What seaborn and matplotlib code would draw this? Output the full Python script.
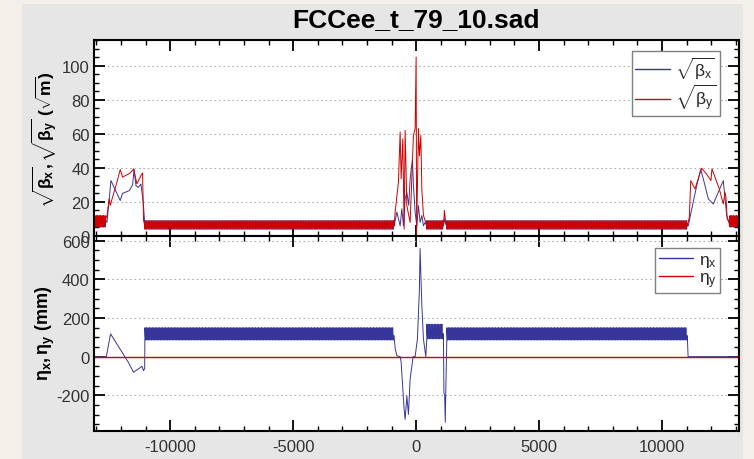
import numpy as np
import pandas as pd
import matplotlib
matplotlib.use("Agg")
import matplotlib.pyplot as plt
from matplotlib.patches import Rectangle
from matplotlib.ticker import MultipleLocator, FixedLocator
import seaborn as sns

# ---------------- data ----------------
title = "FCCee_t_79_10.sad"
x_limits = (-13100, 13130)

# one periodic FODO cell of the dense bands (cell length in m)
cell_len = 60
arc_sqrt_bx = [9.0, 6.5, 4.0, 6.5]
arc_sqrt_by = [4.0, 6.5, 9.0, 6.5]
arc_eta_x = [150, 110, 86, 110]
short_arc_eta_x = [168, 120, 92, 120]
ss_sqrt_bx = [11.5, 7.0, 5.2, 8.5]
ss_sqrt_by = [5.5, 10.5, 12.0, 7.0]

# arc boundaries (m)
ss_left_end = -12620
arc1 = (-11030, -894)
arc2 = (1250, 11030)
short_arc = (435, 1110)
ss_right_start = 12740

# matching section left, sqrt(beta)
ml_s_bx = [-12620, -12573, -12411, -12033, -11939, -11667, -11530, -11470, -11394, -11300, -11191, -11100, -11030]
ml_bx = [9, 8, 32.5, 20.8, 25.0, 26.6, 30, 39, 29.6, 28.5, 30.5, 20, 6]
ml_s_by = [-12620, -12573, -12480, -12440, -12167, -12033, -11939, -11626, -11492, -11354, -11191, -11126, -11085, -11030]
ml_by = [10, 12, 21.8, 18, 31.6, 39, 34.5, 37, 39.4, 30.6, 35.5, 37, 9, 6]

# matching section right, sqrt(beta)
mr_s_bx = [11030, 11069, 11167, 11411, 11573, 11679, 11882, 12085, 12289, 12492, 12561, 12630, 12740]
mr_bx = [6, 6, 13, 29.6, 39, 33.5, 21.8, 18.8, 25.7, 32.5, 21.8, 12, 7]
mr_s_by = [11030, 11110, 11167, 11340, 11540, 11610, 11800, 11990, 12030, 12330, 12492, 12561, 12600, 12650, 12740]
mr_by = [6, 11, 32.5, 27.6, 36.5, 39.8, 36.5, 32.5, 39.4, 27.6, 18.8, 25.7, 22.7, 10, 8]

# interaction region, sqrt(beta)
ir_s_bx = [-894, -785, -650, -581, -516, -447, -378, -300, -244, -150, -110, -41, 28, 93, 163, 232, 297, 366, 435]
ir_bx = [6, 14, 6, 16, 6, 21.8, 25.7, 18, 33.5, 45, 29.6, 14, 6, 17.8, 8, 12, 6, 8, 6]
ir_s_by = [-894, -854, -720, -650, -610, -541, -488, -447, -378, -244, -110, -41, 0, 20, 93, 134, 191, 232, 297, 366, 435]
ir_by = [6, 14, 31.6, 61, 33.5, 57, 4, 62, 17.8, 8, 59, 63, 105, 1, 63, 47, 59, 27.6, 12, 9, 6]

# bump between short arc and arc 2, sqrt(beta)
bump_s = [1110, 1150, 1200, 1250]
bump_bx = [6, 10, 7, 6]
bump_by = [6, 15, 8, 6]

# dispersion eta_x (mm) outside the arcs
eta_left_s = [-13100, -12600, -12427, -11700, -11560, -11490, -11150, -11085, -11040, -11030]
eta_left = [0, 0, 118, -30, -64, -81, -50, -73, -60, 100]
eta_ir_s = [-894, -850, -785, -650, -610, -488, -447, -378, -313, -244, -134, -122, -41,
            53, 134, 160, 232, 297, 394, 435]
eta_ir = [100, 40, 5, 0, -28, -273, -325, -203, -299, -116, -12, 0, 0,
          92, 353, 560, 266, 92, 0, 100]
eta_gap_s = [1110, 1130, 1160, 1185, 1210, 1250]
eta_gap = [100, -186, -200, -340, -150, 100]
eta_right_s = [11030, 11060, 13130]
eta_right = [100, 0, 0]

eta_y_s = [-13100, 13130]
eta_y = [0, 0]


# ---------------- build the series ----------------
def tiled(pattern, s0, s1):
    n = max(1, int(round((s1 - s0) / cell_len)))
    vals = np.tile(np.asarray(pattern, float), n)
    s = s0 + np.arange(len(vals)) * (s1 - s0) / len(vals)
    return s, vals


def join(*parts):
    s = np.concatenate([np.asarray(p[0], float) for p in parts])
    v = np.concatenate([np.asarray(p[1], float) for p in parts])
    return s, v


bx_s, bx_v = join(tiled(ss_sqrt_bx, x_limits[0], ss_left_end), (ml_s_bx, ml_bx),
                  tiled(arc_sqrt_bx, *arc1), (ir_s_bx, ir_bx),
                  tiled(arc_sqrt_bx, *short_arc), (bump_s, bump_bx),
                  tiled(arc_sqrt_bx, *arc2), (mr_s_bx, mr_bx),
                  tiled(ss_sqrt_bx, ss_right_start, x_limits[1]))
by_s, by_v = join(tiled(ss_sqrt_by, x_limits[0], ss_left_end), (ml_s_by, ml_by),
                  tiled(arc_sqrt_by, *arc1), (ir_s_by, ir_by),
                  tiled(arc_sqrt_by, *short_arc), (bump_s, bump_by),
                  tiled(arc_sqrt_by, *arc2), (mr_s_by, mr_by),
                  tiled(ss_sqrt_by, ss_right_start, x_limits[1]))
ex_s, ex_v = join((eta_left_s, eta_left), tiled(arc_eta_x, -11028, -894),
                  (eta_ir_s, eta_ir), tiled(short_arc_eta_x, *short_arc),
                  (eta_gap_s, eta_gap), tiled(arc_eta_x, *arc2),
                  (eta_right_s, eta_right))

# ---------------- style ----------------
sns.set_theme(style="ticks")
plt.rcParams.update({
    "font.family": ["Liberation Sans", "DejaVu Sans"],
    "axes.unicode_minus": False,
    "mathtext.fontset": "custom",
    "mathtext.rm": "Liberation Sans",
    "mathtext.it": "Liberation Sans",
    "mathtext.bf": "Liberation Sans:bold",
    "mathtext.default": "rm",
})

W, H = 754, 460
fig = plt.figure(figsize=(W / 100, H / 100), dpi=100, facecolor="#f3f0ea")
fig.patches.append(Rectangle((22 / W, 0), (743 - 22) / W, (H - 5) / H,
                             transform=fig.transFigure, facecolor="#e6e6e6",
                             edgecolor="none", zorder=-10))

left = 94 / W
width = (739 - 94) / W
ax1 = fig.add_axes([left, (H - 237) / H, width, (237 - 41) / H])
ax2 = fig.add_axes([left, (H - 432) / H, width, (432 - 237) / H], sharex=ax1)

blue = "#36369a"
red = "#d00000"

sns.lineplot(x=bx_s, y=bx_v, ax=ax1, color=blue, lw=0.7, sort=False,
             estimator=None, label=r"$\sqrt{\beta_x}$")
sns.lineplot(x=by_s, y=by_v, ax=ax1, color=red, lw=0.7, sort=False,
             estimator=None, label=r"$\sqrt{\beta_y}$")
sns.lineplot(x=ex_s, y=ex_v, ax=ax2, color=blue, lw=0.7, sort=False,
             estimator=None, label=r"$\eta_x$")
sns.lineplot(x=eta_y_s, y=eta_y, ax=ax2, color=red, lw=1.0, sort=False,
             estimator=None, label=r"$\eta_y$")

ax1.set_xlim(*x_limits)
ax1.set_ylim(0, 115)
ax2.set_ylim(-385, 625)

ax1.yaxis.set_major_locator(FixedLocator([0, 20, 40, 60, 80, 100]))
ax1.yaxis.set_minor_locator(MultipleLocator(5))
ax2.yaxis.set_major_locator(FixedLocator([-200, 0, 200, 400, 600]))
ax2.yaxis.set_minor_locator(MultipleLocator(50))
ax2.xaxis.set_major_locator(MultipleLocator(5000))
ax2.xaxis.set_minor_locator(MultipleLocator(1000))

for ax in (ax1, ax2):
    ax.set_facecolor("white")
    ax.set_xlabel("")
    ax.set_ylabel("")
    for sp in ax.spines.values():
        sp.set_visible(True)
        sp.set_linewidth(1.5)
        sp.set_color("black")
    ax.tick_params(which="both", direction="in", top=True, right=True,
                   bottom=True, left=True, color="black", labelsize=12,
                   labelcolor="#333333")
    ax.tick_params(which="major", length=8, width=1.3)
    ax.tick_params(which="minor", length=3.8, width=1.0)
    ax.tick_params(axis="y", pad=3)
    ax.tick_params(axis="x", pad=6)
    ax.grid(axis="y", which="major", linestyle=(0, (1.5, 2.5)), color="#b0b0b0", lw=0.8)
    ax.set_axisbelow(True)

ax1.tick_params(axis="x", labelbottom=False)

leg_kw = dict(loc="upper right", fontsize=12.5, frameon=True, fancybox=False,
              framealpha=1, edgecolor="#808080", handlelength=2.0,
              handletextpad=0.3, borderpad=0.2, labelspacing=0.08,
              borderaxespad=0)
leg1 = ax1.legend(bbox_to_anchor=(0.9705, 0.944), **leg_kw)
leg2 = ax2.legend(bbox_to_anchor=(0.9705, 0.938), **leg_kw)
for leg in (leg1, leg2):
    leg.get_frame().set_linewidth(1.0)
    for ln in leg.get_lines():
        ln.set_linewidth(1.0)

fig.text(416 / W, 1 - 20 / H, title, ha="center", va="center",
         fontsize=19, fontweight="bold", color="black")
fig.text(45 / W, 1 - 140 / H,
         r"$\mathbf{\sqrt{\beta_x}, \sqrt{\beta_y}\ (\sqrt{m})}$",
         rotation=90, ha="center", va="center", fontsize=12.5, color="black")
fig.text(45 / W, 1 - 333 / H, r"$\mathbf{\eta_x, \eta_y\ (mm)}$",
         rotation=90, ha="center", va="center", fontsize=13, color="black")

fig.savefig("out.png", dpi=100, facecolor=fig.get_facecolor())
